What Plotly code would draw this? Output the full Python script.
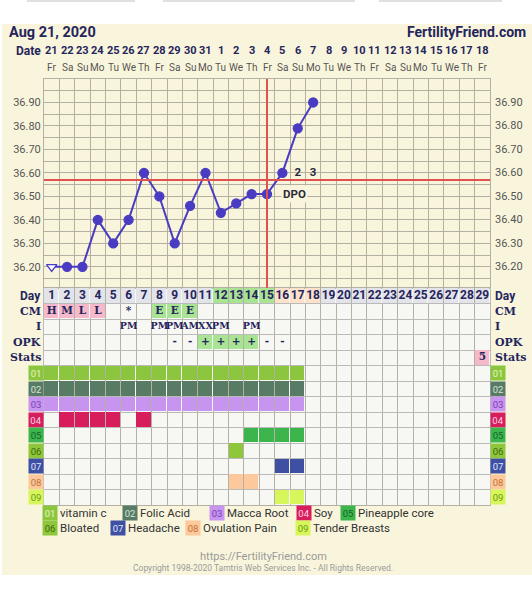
import plotly.graph_objects as go

# ---------------- data ----------------
cycle_days = list(range(1, 30))
date_labels = ["21", "22", "23", "24", "25", "26", "27", "28", "29", "30", "31", "1", "2", "3", "4",
               "5", "6", "7", "8", "9", "10", "11", "12", "13", "14", "15", "16", "17", "18"]
weekday_labels = ["Fr", "Sa", "Su", "Mo", "Tu", "We", "Th", "Fr", "Sa", "Su", "Mo", "Tu", "We", "Th", "Fr",
                  "Sa", "Su", "Mo", "Tu", "We", "Th", "Fr", "Sa", "Su", "Mo", "Tu", "We", "Th", "Fr"]

temp_days = [1, 2, 3, 4, 5, 6, 7, 8, 9, 10, 11, 12, 13, 14, 15, 16, 17, 18]
temps = [36.20, 36.20, 36.20, 36.40, 36.30, 36.40, 36.60, 36.50, 36.30, 36.46,
         36.60, 36.43, 36.47, 36.51, 36.51, 36.60, 36.79, 36.90]
temp_ticks = [36.20, 36.30, 36.40, 36.50, 36.60, 36.70, 36.80, 36.90]
coverline_temp = 36.57
ovulation_day = 15
dpo_days = [16, 17, 18]
dpo_labels = ["1", "2", "3"]

day_green_days = [12, 13, 14, 15]
day_peach_days = [16, 17, 18]

cm_days = [1, 2, 3, 4, 6, 8, 9, 10]
cm_values = ["H", "M", "L", "L", "*", "E", "E", "E"]
i_days = [6, 8, 9, 10, 11, 12, 14]
i_values = ["PM", "PM", "PM", "AM", "XX", "PM", "PM"]
opk_days = [9, 10, 11, 12, 13, 14, 15, 16]
opk_values = ["-", "-", "+", "+", "+", "+", "-", "-"]
stats_days = [29]
stats_values = ["5"]

item_codes = ["01", "02", "03", "04", "05", "06", "07", "08", "09"]
item_names = ["vitamin c", "Folic Acid", "Macca Root", "Soy", "Pineapple core",
              "Bloated", "Headache", "Ovulation Pain", "Tender Breasts"]
item_colors = ["#8cc63e", "#587b66", "#c794f0", "#d71d5c", "#3bb54c",
               "#8fc73c", "#3f50a3", "#fcc89c", "#d6f65c"]
item_text_colors = ["#e6f5c6", "#d3e3d8", "#7a3fb0", "#ffd3e0", "#16652a",
                    "#3c6a0e", "#dfe4ff", "#c27335", "#6b9a12"]
item_days = [
    [1, 2, 3, 4, 5, 6, 7, 8, 9, 10, 11, 12, 13, 14, 15, 16, 17],
    [1, 2, 3, 4, 5, 6, 7, 8, 9, 10, 11, 12, 13, 14, 15, 16, 17],
    [1, 2, 3, 4, 5, 6, 7, 8, 9, 10, 11, 12, 13, 14, 15, 16, 17],
    [2, 3, 4, 5, 7],
    [14, 15, 16, 17],
    [13],
    [16, 17],
    [13, 14],
    [16, 17],
]

# ---------------- style ----------------
W, H = 532, 600
PL, PR, PT, PB = 44, 490, 79, 505  # plot area pixels
NAVY = "#25255c"
GRID_T = "#b4b1a2"
GRID_B = "#bababa"
CREAM = "#f9f5dc"
TABLE_BG = "#f7f7f3"
DAY_GRAY = "#e3e3ea"
GREEN_LIGHT = "#a9e394"
PEACH_LIGHT = "#fde1ca"
PINK = "#f6b9cc"
TEMP_COLOR = "#4a3cc2"
RED = "#e0524f"
SANS = "Roboto"
SERIF = "DejaVu Serif"


def px_x(p):
    return (p - PL) / (PR - PL)


def px_y(p):
    return (PB - p) / (PB - PT)


row_names = ["Day", "CM", "I", "OPK", "Stats"] + item_codes
nrows = len(row_names)
split = (PB - 288) / (PB - PT)

# ---------------- table cell colours ----------------
cells = [[None] * len(cycle_days) for _ in range(nrows)]
for d in cycle_days:
    cells[0][d - 1] = DAY_GRAY
for d in day_green_days:
    cells[0][d - 1] = GREEN_LIGHT
for d in day_peach_days:
    cells[0][d - 1] = PEACH_LIGHT
for d, v in zip(cm_days, cm_values):
    if v in ("H", "M", "L"):
        cells[1][d - 1] = PINK
    elif v == "E":
        cells[1][d - 1] = GREEN_LIGHT
for d, v in zip(opk_days, opk_values):
    if v == "+":
        cells[3][d - 1] = GREEN_LIGHT
for d in stats_days:
    cells[4][d - 1] = PINK
for k, days in enumerate(item_days):
    for d in days:
        cells[5 + k][d - 1] = item_colors[k]

palette = []
for row in cells:
    for c in row:
        if c is not None and c not in palette:
            palette.append(c)
N = len(palette)
colorscale = []
for i, c in enumerate(palette):
    colorscale.append([i / N, c])
    colorscale.append([(i + 1) / N, c])
z = [[(palette.index(c) + 0.5) if c is not None else None for c in row] for row in cells]

fig = go.Figure()

fig.add_trace(go.Heatmap(
    x=cycle_days, y=list(range(nrows)), z=z, colorscale=colorscale, zmin=0, zmax=N,
    xgap=1, ygap=1, showscale=False, hoverinfo="skip", xaxis="x", yaxis="y2"))

# table texts
fig.add_trace(go.Scatter(
    x=cycle_days, y=[0] * len(cycle_days), text=[str(d) for d in cycle_days], mode="text",
    textfont=dict(family=SANS, size=12, color=NAVY, weight="bold"), hoverinfo="skip",
    xaxis="x", yaxis="y2", showlegend=False))
for r, (ds, vs, fs) in enumerate([(cm_days, cm_values, 10.5), (i_days, i_values, 9.5),
                                  (opk_days, opk_values, 10.5), (stats_days, stats_values, 10.5)],
                                 start=1):
    fig.add_trace(go.Scatter(
        x=ds, y=[r] * len(ds), text=vs, mode="text",
        textfont=dict(family=SERIF, size=fs, color=NAVY, weight="bold"),
        hoverinfo="skip", xaxis="x", yaxis="y2", showlegend=False))

# DPO numbers (under the line)
fig.add_trace(go.Scatter(
    x=dpo_days, y=[temps[temp_days.index(16)]] * len(dpo_days), text=dpo_labels, mode="text",
    textfont=dict(family=SANS, size=11.5, color="#2b2b3a", weight="bold"),
    hoverinfo="skip", xaxis="x", yaxis="y", showlegend=False))

# temperature line
symbols = ["triangle-down"] + ["circle"] * (len(temps) - 1)
mcolors = ["white"] + [TEMP_COLOR] * (len(temps) - 1)
fig.add_trace(go.Scatter(
    x=temp_days, y=temps, mode="lines+markers",
    line=dict(color=TEMP_COLOR, width=2),
    marker=dict(symbol=symbols, color=mcolors, size=9, line=dict(color=TEMP_COLOR, width=1.3)),
    hoverinfo="skip", xaxis="x", yaxis="y", showlegend=False))

shapes = []
# page background
shapes.append(dict(type="rect", xref="paper", yref="paper", x0=px_x(2), x1=px_x(W + 2),
                   y0=px_y(575), y1=px_y(24), fillcolor=CREAM, line=dict(width=0), layer="below"))
for a, b in [(27, 135), (163, 355), (379, 502)]:
    shapes.append(dict(type="rect", xref="paper", yref="paper", x0=px_x(a), x1=px_x(b),
                       y0=px_y(2), y1=px_y(0), fillcolor="#e0e0e0", line=dict(width=0), layer="below"))
# table background
shapes.append(dict(type="rect", xref="x domain", yref="y2 domain", x0=0, x1=1, y0=0, y1=1,
                   fillcolor=TABLE_BG, line=dict(width=0), layer="below"))
# coverline & ovulation line
shapes.append(dict(type="line", xref="x domain", yref="y", x0=0, x1=1,
                   y0=coverline_temp, y1=coverline_temp, line=dict(color=RED, width=2), layer="above"))
shapes.append(dict(type="line", xref="x", yref="y domain", x0=ovulation_day, x1=ovulation_day,
                   y0=0, y1=1, line=dict(color=RED, width=2), layer="above"))

ann = []
# header
ann.append(dict(text="Aug 21, 2020", xref="paper", yref="paper", x=px_x(7), y=px_y(32),
                xanchor="left", yanchor="middle", showarrow=False,
                font=dict(family=SANS, size=14.5, color=NAVY, weight="bold")))
ann.append(dict(text="FertilityFriend.com", xref="paper", yref="paper", x=px_x(528), y=px_y(32),
                xanchor="right", yanchor="middle", showarrow=False,
                font=dict(family=SANS, size=14, color=NAVY, weight="bold")))
ann.append(dict(text="Date", xref="paper", yref="paper", x=px_x(43), y=px_y(51),
                xanchor="right", yanchor="middle", showarrow=False,
                font=dict(family=SANS, size=12, color=NAVY, weight="bold")))
for d, lab, wd in zip(cycle_days, date_labels, weekday_labels):
    ann.append(dict(text=lab, xref="x", yref="paper", x=d, y=px_y(51), xanchor="center",
                    yanchor="middle", showarrow=False,
                    font=dict(family=SANS, size=11, color=NAVY, weight="bold")))
    ann.append(dict(text=wd, xref="x", yref="paper", x=d, y=px_y(67), xanchor="center",
                    yanchor="middle", showarrow=False,
                    font=dict(family=SANS, size=10, color="#555555")))

# right temperature labels
for t in temp_ticks:
    ann.append(dict(text=f"{t:.2f}", xref="paper", yref="y", x=px_x(493), y=t, xanchor="left",
                    yanchor="middle", showarrow=False, font=dict(family=SANS, size=11, color="#555555")))

# DPO label
ann.append(dict(text="DPO", xref="x", yref="y", x=16.8, y=temps[temp_days.index(15)],
                xanchor="center", yanchor="middle", showarrow=False, bgcolor=CREAM, borderpad=1,
                font=dict(family=SANS, size=11.5, color="#2b2b3a", weight="bold")))

# row labels
for r, name in enumerate(row_names[:5]):
    fnt = (dict(family=SANS, size=12, color=NAVY, weight="bold") if name == "Day"
           else dict(family=SERIF, size=11, color=NAVY, weight="bold"))
    ann.append(dict(text=name, xref="paper", yref="y2", x=px_x(42.5), y=r, xanchor="right",
                    yanchor="middle", showarrow=False, font=fnt))
    ann.append(dict(text=name, xref="paper", yref="y2", x=px_x(493), y=r, xanchor="left",
                    yanchor="middle", showarrow=False, font=fnt))
for k, code in enumerate(item_codes):
    for xc in (35.5, 498):
        ann.append(dict(text=code, xref="paper", yref="y2", x=px_x(xc), y=5 + k, xanchor="center",
                        yanchor="middle", showarrow=False, bgcolor=item_colors[k], width=12, height=12,
                        borderpad=1, font=dict(family=SANS, size=9.5, color=item_text_colors[k])))

# legend
legend_pos = [(43, 513), (123, 513), (210, 513), (297, 513), (341, 513),
              (43, 528), (111, 528), (186, 528), (296, 528)]
for k, (lx, ly) in enumerate(legend_pos):
    ann.append(dict(text=item_codes[k], xref="paper", yref="paper", x=px_x(lx + 7), y=px_y(ly),
                    xanchor="center", yanchor="middle", showarrow=False, bgcolor=item_colors[k],
                    width=12, height=12, borderpad=1,
                    font=dict(family=SANS, size=9.5, color=item_text_colors[k])))
    ann.append(dict(text=item_names[k], xref="paper", yref="paper", x=px_x(lx + 15), y=px_y(ly),
                    xanchor="left", yanchor="middle", showarrow=False,
                    font=dict(family=SANS, size=11.5, color="#333333")))

# footer
ann.append(dict(text="https://FertilityFriend.com", xref="paper", yref="paper", x=px_x(263),
                y=px_y(556.5), xanchor="center", yanchor="middle", showarrow=False,
                font=dict(family=SANS, size=11, color="#9a9a9a")))
ann.append(dict(text="Copyright 1998-2020 Tamtris Web Services Inc. - All Rights Reserved.",
                xref="paper", yref="paper", x=px_x(263), y=px_y(568), xanchor="center",
                yanchor="middle", showarrow=False, font=dict(family=SANS, size=8.5, color="#9a9a9a")))

minor_vals = [round(t - 0.05, 2) for t in temp_ticks] + [36.95]

fig.update_layout(
    width=W, height=H, autosize=False,
    margin=dict(l=PL, r=W - PR, t=PT, b=H - PB, pad=0),
    paper_bgcolor="white", plot_bgcolor=CREAM,
    showlegend=False,
    shapes=shapes, annotations=ann,
    xaxis=dict(domain=[0, 1], range=[0.5, 29.5], anchor="y2",
               tickvals=[d - 0.5 for d in cycle_days] + [29.5], showticklabels=False, ticks="",
               showgrid=True, gridcolor=GRID_T, gridwidth=1, zeroline=False,
               showline=True, linecolor=GRID_T, linewidth=1, mirror="all", fixedrange=True),
    yaxis=dict(domain=[split, 1], range=[36.11, 37.0], anchor="x",
               tickvals=temp_ticks, ticktext=[f"{t:.2f}" for t in temp_ticks], ticks="",
               tickfont=dict(family=SANS, size=11, color="#555555"),
               showgrid=True, gridcolor=GRID_T, gridwidth=1, zeroline=False,
               minor=dict(tickvals=minor_vals, showgrid=True, gridcolor=GRID_T, gridwidth=1, ticks=""),
               showline=True, linecolor=GRID_T, linewidth=1, mirror=True, fixedrange=True),
    yaxis2=dict(domain=[0, split], range=[nrows - 0.5, -0.5], anchor="x",
                tickvals=[r - 0.5 for r in range(nrows + 1)], showticklabels=False, ticks="",
                showgrid=True, gridcolor=GRID_B, gridwidth=1, zeroline=False,
                showline=True, linecolor=GRID_B, linewidth=1, mirror=True, fixedrange=True),
)

fig.write_html("out.html", config={"displayModeBar": False},
               post_script="document.body.style.margin='0px';document.body.style.overflow='hidden';")
